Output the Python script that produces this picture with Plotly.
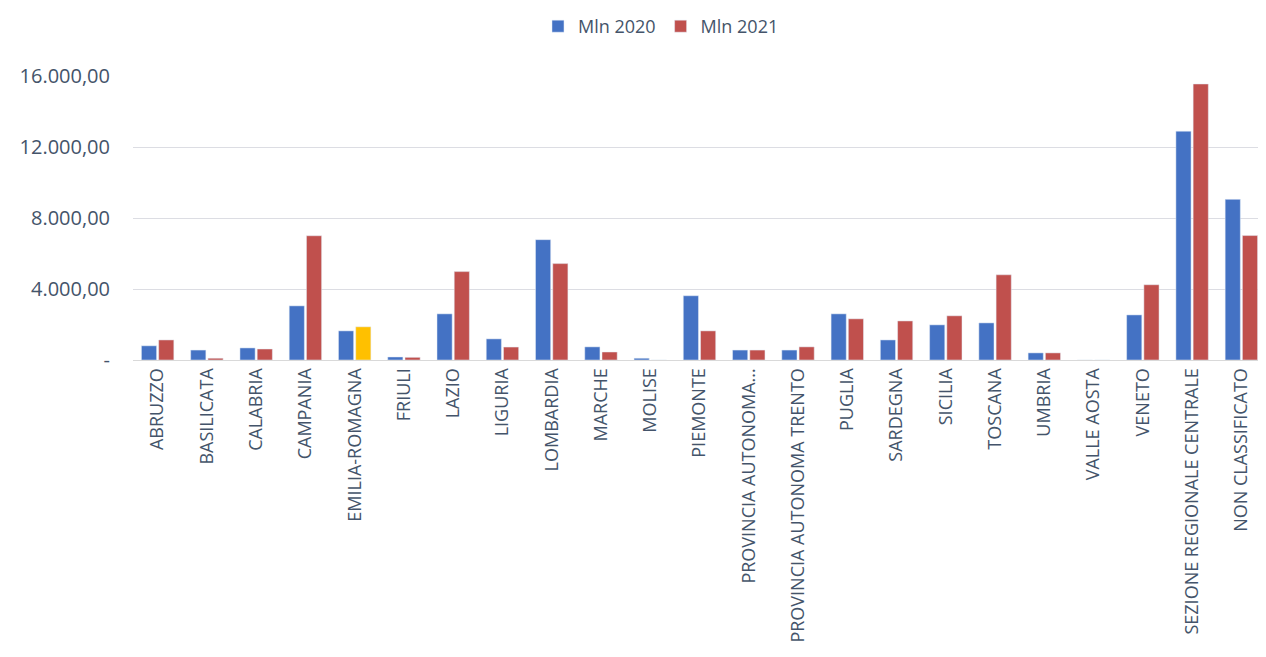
import plotly.graph_objects as go

categories = ["ABRUZZO", "BASILICATA", "CALABRIA", "CAMPANIA", "EMILIA-ROMAGNA", "FRIULI",
              "LAZIO", "LIGURIA", "LOMBARDIA", "MARCHE", "MOLISE", "PIEMONTE",
              "PROVINCIA AUTONOMA...", "PROVINCIA AUTONOMA TRENTO", "PUGLIA", "SARDEGNA",
              "SICILIA", "TOSCANA", "UMBRIA", "VALLE AOSTA", "VENETO",
              "SEZIONE REGIONALE CENTRALE", "NON CLASSIFICATO"]
mln_2020 = [800, 560, 680, 3050, 1640, 170, 2600, 1190, 6780, 740, 100, 3620,
            560, 560, 2600, 1130, 1980, 2090, 400, 0, 2540, 12890, 9050]
mln_2021 = [1130, 100, 620, 7000, 1870, 150, 4980, 730, 5430, 450, 0, 1640,
            560, 740, 2320, 2200, 2490, 4800, 400, 0, 4240, 15550, 7010]
y_tickvals = [0, 4000, 8000, 12000, 16000]
y_ticktext = ["-", "4.000,00", "8.000,00", "12.000,00", "16.000,00"]

blue = "#4472C4"
red = "#C0504D"
yellow = "#FFC000"
red_colors = [yellow if c == "EMILIA-ROMAGNA" else red for c in categories]

fig = go.Figure()
fig.add_trace(go.Bar(x=categories, y=mln_2020, name="Mln 2020", marker_color=blue))
fig.add_trace(go.Bar(x=categories, y=mln_2021, name="Mln 2021", marker_color=red_colors))

txt = "#44546A"
fig.update_layout(
    width=1266, height=657,
    margin=dict(l=125, r=8, t=68, b=305),
    paper_bgcolor="white", plot_bgcolor="white",
    font=dict(family="Open Sans, Liberation Sans, sans-serif", color=txt, size=15),
    barmode="group", bargap=0.3, bargroupgap=0.12,
    legend=dict(orientation="h", x=0.466, xanchor="center", y=1.0, yanchor="top",
                yref="container",
                font=dict(size=18, color=txt), traceorder="normal", itemwidth=30),
    showlegend=True,
    xaxis=dict(tickangle=-90, showgrid=False, showline=True, linecolor="#D9D9D9",
               linewidth=1, ticks="", tickfont=dict(size=18, color=txt), automargin=False),
    yaxis=dict(range=[0, 16000], tickvals=y_tickvals, ticktext=y_ticktext,
               showgrid=True, gridcolor="#DCDDE3", gridwidth=1, zeroline=False,
               tickfont=dict(size=20, color=txt), ticklabelstandoff=22),
)
fig.write_html("out.html")
